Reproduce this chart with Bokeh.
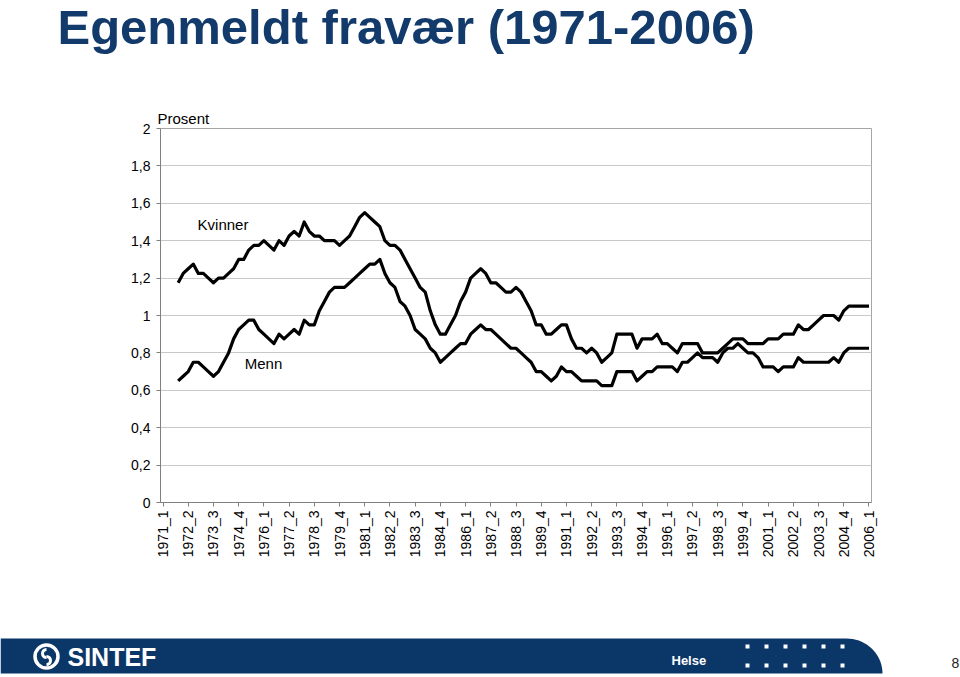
import math
from bokeh.plotting import figure
from bokeh.layouts import column
from bokeh.models import (FixedTicker, CustomJSTickFormatter, Label, ColumnDataSource,
                          Range1d, Title)
from bokeh.core.properties import value
from bokeh.embed import file_html
from bokeh.resources import INLINE

# ---------------- data ----------------
# quarters 1971_1 ... 2006_1 -> category index 0 ... 140
n_quarters = 141
first_plotted = 3  # 1971_4 (first quarter shown in the series)

tick_labels = ["1971_1", "1972_2", "1973_3", "1974_4", "1976_1", "1977_2", "1978_3",
               "1979_4", "1981_1", "1982_2", "1983_3", "1984_4", "1986_1", "1987_2",
               "1988_3", "1989_4", "1991_1", "1992_2", "1993_3", "1994_4", "1996_1",
               "1997_2", "1998_3", "1999_4", "2001_1", "2002_2", "2003_3", "2004_4",
               "2006_1"]

kvinner = [1.175, 1.225, 1.25, 1.275, 1.225, 1.225, 1.2, 1.175, 1.2, 1.2,
           1.225, 1.25, 1.3, 1.3, 1.35, 1.375, 1.375, 1.4, 1.375, 1.35,
           1.4, 1.375, 1.425, 1.45, 1.425, 1.5, 1.45, 1.425, 1.425, 1.4,
           1.4, 1.4, 1.375, 1.4, 1.425, 1.475, 1.525, 1.55, 1.525, 1.5,
           1.475, 1.4, 1.375, 1.375, 1.35, 1.3, 1.25, 1.2, 1.15, 1.125,
           1.025, 0.95, 0.9, 0.9, 0.95, 1.0, 1.075, 1.125, 1.2, 1.225,
           1.25, 1.225, 1.175, 1.175, 1.15, 1.125, 1.125,
           1.15, 1.125, 1.075, 1.025, 0.95, 0.95, 0.9, 0.9, 0.925, 0.95,
           0.95, 0.875, 0.825, 0.825, 0.8, 0.825, 0.8, 0.75, 0.775, 0.8,
           0.9, 0.9, 0.9, 0.9, 0.825, 0.875, 0.875, 0.875, 0.9, 0.85,
           0.85, 0.825, 0.8, 0.85, 0.85, 0.85, 0.85, 0.8, 0.8, 0.8,
           0.8, 0.825, 0.85, 0.875, 0.875, 0.875, 0.85, 0.85, 0.85, 0.85,
           0.875, 0.875, 0.875, 0.9, 0.9, 0.9, 0.95, 0.925, 0.925, 0.95,
           0.975, 1.0, 1.0, 1.0, 0.975, 1.025, 1.05, 1.05, 1.05, 1.05, 1.05]

menn = [0.65, 0.675, 0.7, 0.75, 0.75, 0.725, 0.7, 0.675, 0.7, 0.75,
        0.8, 0.875, 0.925, 0.95, 0.975, 0.975, 0.925, 0.9, 0.875, 0.85,
        0.9, 0.875, 0.9, 0.925, 0.9, 0.975, 0.95, 0.95, 1.025, 1.075,
        1.125, 1.15, 1.15, 1.15, 1.175, 1.2, 1.225, 1.25, 1.275, 1.275,
        1.3, 1.225, 1.175, 1.15, 1.075, 1.05, 1.0, 0.925, 0.9, 0.875,
        0.825, 0.8, 0.75, 0.775, 0.8, 0.825, 0.85, 0.85, 0.9, 0.925,
        0.95, 0.925, 0.925, 0.9, 0.875, 0.85, 0.825,
        0.825, 0.8, 0.775, 0.75, 0.7, 0.7, 0.675, 0.65, 0.675, 0.725,
        0.7, 0.7, 0.675, 0.65, 0.65, 0.65, 0.65, 0.625, 0.625, 0.625,
        0.7, 0.7, 0.7, 0.7, 0.65, 0.675, 0.7, 0.7, 0.725, 0.725,
        0.725, 0.725, 0.7, 0.75, 0.75, 0.775, 0.8, 0.775, 0.775, 0.775,
        0.75, 0.8, 0.825, 0.825, 0.85, 0.825, 0.8, 0.8, 0.775, 0.725,
        0.725, 0.725, 0.7, 0.725, 0.725, 0.725, 0.775, 0.75, 0.75, 0.75,
        0.75, 0.75, 0.75, 0.775, 0.75, 0.8, 0.825, 0.825, 0.825, 0.825, 0.825]

y_ticks = [0, 0.2, 0.4, 0.6, 0.8, 1.0, 1.2, 1.4, 1.6, 1.8, 2.0]

FONT = "Liberation Sans"
NAVY = "#123A6B"
BAR = "#0B3768"

W = 960
H_TITLE, H_MAIN, H_FOOT = 60, 550, 66
FOOT_TOP = H_TITLE + H_MAIN   # page y where the footer strip begins


def fy(page_y):
    """footer-strip data y from a page-pixel row"""
    return H_FOOT - (page_y - FOOT_TOP)


# ---------------- title ----------------
t = figure(width=W, height=H_TITLE, x_range=Range1d(0, W), y_range=Range1d(0, H_TITLE),
           x_axis_location=None, y_axis_location=None, toolbar_location=None,
           output_backend="svg", min_border=0, outline_line_color=None,
           frame_align=False)
t.grid.visible = False
t.text(x=[57], y=[H_TITLE - 26], text=["Egenmeldt fravær (1971-2006)"],
       text_font=value(FONT), text_font_style="bold", text_font_size="49px",
       text_color=NAVY, text_baseline="middle", text_align="left")

# ---------------- main chart ----------------
src = ColumnDataSource(dict(x=list(range(first_plotted, first_plotted + len(kvinner))),
                            kvinner=kvinner, menn=menn))

p = figure(width=W, height=H_MAIN, x_range=Range1d(-0.5, n_quarters - 0.5),
           y_range=Range1d(0, 2), toolbar_location=None, output_backend="svg",
           min_border_left=160, min_border_right=89, min_border_top=68,
           min_border_bottom=108, outline_line_color="#a6a6a6",
           background_fill_color="white", border_fill_color="white",
           frame_align=False)

p.line("x", "kvinner", source=src, line_color="black", line_width=3.2,
       line_join="round")
p.line("x", "menn", source=src, line_color="black", line_width=3.2,
       line_join="round")

p.xgrid.visible = False
p.ygrid.grid_line_color = "#c8c8c8"
p.ygrid.grid_line_width = 1

p.yaxis.ticker = FixedTicker(ticks=y_ticks)
p.yaxis.formatter = CustomJSTickFormatter(
    code="return (Math.round(tick*10)/10).toString().replace('.', ',');")
p.xaxis.ticker = FixedTicker(ticks=[5 * k for k in range(len(tick_labels))])
p.xaxis.formatter = CustomJSTickFormatter(
    args=dict(labels=tick_labels),
    code="const k = Math.round(tick/5); return (k >= 0 && k < labels.length) ? labels[k] : '';")
p.xaxis.major_label_orientation = math.pi / 2

for ax in (p.xaxis[0], p.yaxis[0]):
    ax.axis_line_color = "#808080"
    ax.major_tick_line_color = "#808080"
    ax.minor_tick_line_color = None
    ax.major_tick_in = 0
    ax.major_tick_out = 4
    ax.major_label_text_font = FONT
    ax.major_label_text_font_size = "14px"
    ax.major_label_text_color = "black"
p.yaxis.major_label_standoff = 6
p.xaxis.major_label_standoff = 4

for txt, xx, yy in (("Kvinner", 6.85, 1.487), ("Menn", 16.2, 0.743)):
    p.add_layout(Label(x=xx, y=yy, text=txt, text_font=FONT,
                       text_font_size="15px", text_color="black",
                       text_baseline="middle", text_align="left"))
p.add_layout(Title(text="Prosent", align="left", offset=-3, standoff=4,
                   text_font=FONT, text_font_size="15px", text_font_style="normal",
                   text_color="black"), "above")

# ---------------- footer ----------------
f = figure(width=W, height=H_FOOT, x_range=Range1d(0, W), y_range=Range1d(0, H_FOOT),
           x_axis_location=None, y_axis_location=None, toolbar_location=None,
           output_backend="svg", min_border=0, outline_line_color=None,
           frame_align=False)
f.grid.visible = False
bar_top, bar_bot = fy(638), fy(673)
bx = [0, 882]
by = [bar_bot, bar_bot]
for k in range(0, 19):
    a = math.radians(5 * k)
    bx.append(846 + 36 * math.cos(a))
    by.append(bar_bot + (bar_top - bar_bot) * math.sin(a))
bx += [0]
by += [bar_top]
f.patch(bx, by, fill_color=BAR, line_color=None)
# logo emblem
cy = fy(656)
f.scatter([46], [cy], size=23, marker="circle", fill_color=None,
          line_color="white", line_width=3.5)
f.arc(x=[46], y=[cy + 3], radius=4, start_angle=math.radians(90),
      end_angle=math.radians(270), line_color="white", line_width=3)
f.arc(x=[46], y=[cy - 4], radius=4, start_angle=math.radians(270),
      end_angle=math.radians(90), line_color="white", line_width=3)
f.text(x=[67], y=[cy], text=["SINTEF"], text_font=value(FONT), text_font_style="bold",
       text_font_size="25px", text_color="white", text_baseline="middle",
       text_align="left")
f.text(x=[671], y=[fy(660)], text=["Helse"], text_font=value(FONT),
       text_font_style="bold", text_font_size="13px", text_color="white",
       text_baseline="middle", text_align="left")
dot_x = [747 + 19 * k for k in range(6)]
f.scatter(dot_x * 2, [fy(646)] * 6 + [fy(665)] * 6, marker="square", size=4,
          fill_color="white", line_color=None)
f.text(x=[951], y=[fy(662)], text=["8"], text_font=value(FONT),
       text_font_size="14px", text_color="#222222", text_baseline="middle",
       text_align="left")

layout = column(t, p, f, spacing=0)
open("out.html", "w").write(file_html(layout, INLINE))
